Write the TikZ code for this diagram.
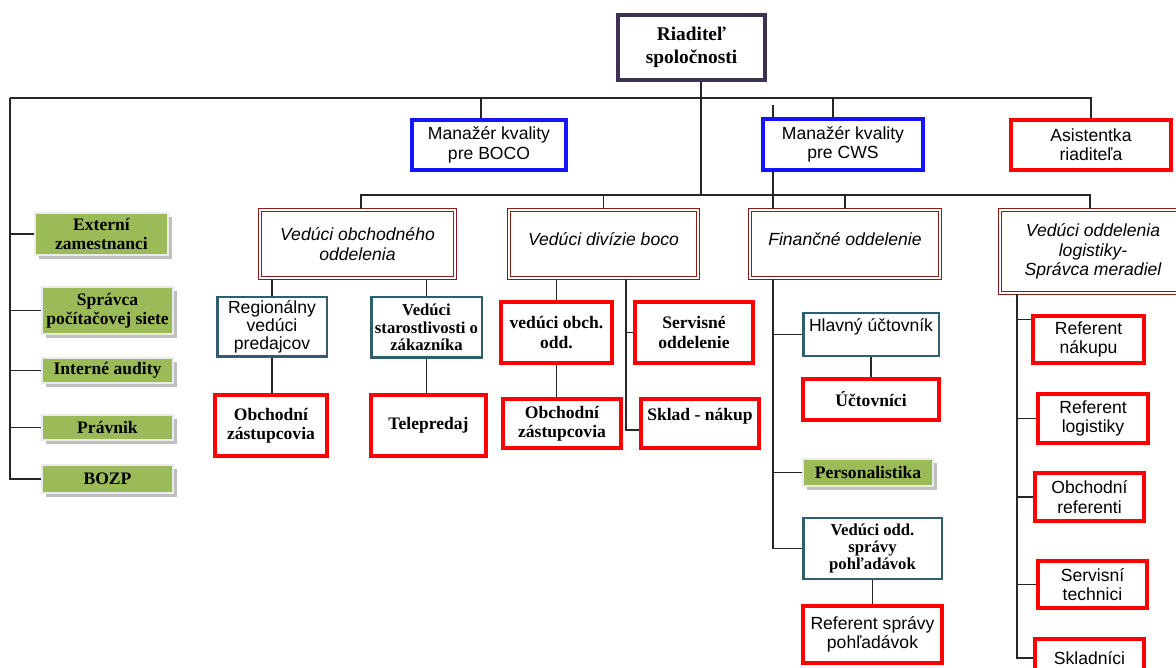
\documentclass[tikz,border=0pt]{standalone}
\usepackage{fontspec}
\setmainfont{Liberation Serif}
\setsansfont{Liberation Sans}
\usepackage{tikz}
\usetikzlibrary{shadows}

\definecolor{dirpurple}{HTML}{3F3151}
\definecolor{qblue}{HTML}{1414FF}
\definecolor{bred}{HTML}{FF0000}
\definecolor{dteal}{HTML}{2F5F6C}
\definecolor{dred}{HTML}{8E1B1B}
\definecolor{lgreen}{HTML}{9BBB59}

\tikzset{
  box/.style={draw, fill=white, align=center, inner sep=1pt},
  sanstxt/.style={font=\sffamily\fontsize{10}{11}\selectfont},
  seriftxt/.style={font=\bfseries\fontsize{10}{11}\selectfont},
  dirbox/.style={box, draw=dirpurple, line width=2.2pt, font=\bfseries\fontsize{11}{13}\selectfont},
  bluebox/.style={box, draw=qblue, line width=2pt, sanstxt},
  redbox/.style={box, draw=bred, line width=2pt},
  tealbox/.style={box, draw=dteal, line width=1.7pt},
  headbox/.style={box, draw=dred, double=white, line width=0.8pt, double distance=1.1pt,
    font=\sffamily\itshape\fontsize{10}{11}\selectfont},
  greenbox/.style={box, fill=lgreen, draw=black!8, line width=1.2pt,
    general shadow={fill=black!25, shadow xshift=2pt, shadow yshift=-2pt}, seriftxt},
  link/.style={line width=0.8pt, black!85},
}

\begin{document}
\begin{tikzpicture}[x=0.02cm, y=-0.02cm]
\useasboundingbox (0,0) rectangle (1176,668);

\node[dirbox, minimum width=2.94cm, minimum height=1.30cm] (dir) at (691.5,47.5) {Riaditeľ\\spoločnosti};
\node[bluebox, minimum width=3.08cm, minimum height=1cm] (boco) at (489,145) {Manažér kvality\\pre BOCO};
\node[bluebox, minimum width=3.2cm, minimum height=1.02cm] (cws) at (843,144.5) {Manažér kvality\\pre CWS};
\node[redbox, sanstxt, minimum width=3.2cm, minimum height=1cm] (asist) at (1091,145) {Asistentka\\riaditeľa};

\node[greenbox, minimum width=2.66cm, minimum height=0.84cm] (ext) at (101.5,234) {Externí\\zamestnanci};
\node[greenbox, minimum width=2.62cm, minimum height=0.94cm] (spr) at (107.5,310.5) {Správca\\počítačovej siete};
\node[greenbox, minimum width=2.62cm, minimum height=0.5cm] (aud) at (107.5,370.5) {Interné audity};
\node[greenbox, minimum width=2.62cm, minimum height=0.5cm] (prav) at (107.5,427.5) {Právnik};
\node[greenbox, minimum width=2.62cm, minimum height=0.56cm] (bozp) at (107.5,479) {BOZP};

\node[headbox, minimum width=3.9cm, minimum height=1.36cm] (obch) at (357.5,244) {Vedúci obchodného\\oddelenia};
\node[headbox, minimum width=3.78cm, minimum height=1.36cm, text depth=5.5pt] (div) at (603.5,244) {Vedúci divízie boco};
\node[headbox, minimum width=3.8cm, minimum height=1.36cm, text depth=5.5pt] (fin) at (845,244) {Finančné oddelenie};
\node[headbox, minimum width=3.72cm, minimum height=1.66cm] (log) at (1093,251.5) {Vedúci oddelenia\\logistiky-\\Správca meradiel};

\node[tealbox, font=\sffamily\fontsize{10}{10.4}\selectfont, minimum width=2.2cm, minimum height=1.2cm] (reg) at (272,327) {Regionálny\\vedúci\\predajcov};
\node[tealbox, font=\bfseries\fontsize{9.5}{10}\selectfont, minimum width=2.22cm, minimum height=1.22cm] (star) at (426.5,327.5) {Vedúci\\starostlivosti o\\zákazníka};
\node[redbox, seriftxt, minimum width=2.24cm, minimum height=1.22cm] (obz1) at (271,425.5) {Obchodní\\zástupcovia};
\node[redbox, seriftxt, minimum width=2.3cm, minimum height=1.22cm] (tele) at (428.5,425.5) {Telepredaj};

\node[redbox, seriftxt, minimum width=2.22cm, minimum height=1.22cm] (vobch) at (556.5,332.5) {vedúci obch.\\odd.};
\node[redbox, seriftxt, minimum width=2.36cm, minimum height=1.22cm] (serv) at (694,332.5) {Servisné\\oddelenie};
\node[redbox, seriftxt, minimum width=2.36cm, minimum height=0.98cm] (obz2) at (562,423.5) {Obchodní\\zástupcovia};
\node[redbox, seriftxt, minimum width=2.36cm, minimum height=0.98cm, text depth=10.5pt] (sklad) at (700,423.5) {Sklad - nákup};

\node[tealbox, sanstxt, minimum width=2.72cm, minimum height=0.86cm, text depth=10.5pt] (hlav) at (871,334.5) {Hlavný účtovník};
\node[redbox, seriftxt, minimum width=2.72cm, minimum height=0.82cm] (uct) at (871,399.5) {Účtovníci};
\node[greenbox, minimum width=2.6cm, minimum height=0.54cm] (pers) at (868,472.5) {Personalistika};
\node[tealbox, font=\bfseries\fontsize{9.5}{9.5}\selectfont, minimum width=2.78cm, minimum height=1.22cm] (vpoh) at (872.5,548.5) {Vedúci odd.\\správy\\pohľadávok};
\node[redbox, sanstxt, minimum width=2.78cm, minimum height=1.14cm] (rpoh) at (872.5,634.5) {Referent správy\\pohľadávok};

\node[redbox, sanstxt, minimum width=2.22cm, minimum height=0.94cm] (rnak) at (1088.5,339.5) {Referent\\nákupu};
\node[redbox, sanstxt, minimum width=2.2cm, minimum height=0.98cm] (rlog) at (1093,418.5) {Referent\\logistiky};
\node[redbox, sanstxt, minimum width=2.18cm, minimum height=0.96cm] (obref) at (1089.5,497) {Obchodní\\referenti};
\node[redbox, sanstxt, minimum width=2.18cm, minimum height=0.94cm] (servt) at (1092.5,584.5) {Servisní\\technici};
\node[redbox, sanstxt, minimum width=2.18cm, minimum height=0.76cm] (skladn) at (1089.5,658) {Skladníci};

\coordinate (topL) at (10,98);
\coordinate (topR) at (1091,98);
\coordinate (trunk) at (701,195);
\coordinate (bocoin) at ([xshift=-0.16cm]boco.north);
\coordinate (cwsin) at ([xshift=-0.2cm]cws.north);
\coordinate (cwsl) at (773,105);
\coordinate (barL) at (361,195);
\coordinate (barR) at (1090,195);
\coordinate (dstem) at (626,430);
\coordinate (fstem) at (773,548);
\coordinate (lstem) at (1017,293);
\coordinate (rnakin) at ([yshift=-0.1cm]rnak.north west);

\draw[link] (topL) -- (topR) -- (asist.north);
\draw[link] (dir.south -| trunk) -- (trunk);
\draw[link] (bocoin) -- (bocoin |- topL);
\draw[link] (cwsin) -- (cwsin |- topL);
\draw[link] (cwsl) -- (cwsl |- cws.north);
\draw[link] (cwsl |- cws.south) -- (cwsl |- fin.north);

\draw[link] (topL) |- (ext.west);
\draw[link] (topL) |- (spr.west);
\draw[link] (topL) |- (aud.west);
\draw[link] (topL) |- (prav.west);
\draw[link] (topL) |- (bozp.west);

\draw[link] (obch.north -| barL) -- (barL) -- (barR) -- (barR |- log.north);
\draw[link] (div.north) -- (div.north |- barL);
\draw[link] (fin.north) -- (fin.north |- barL);

\draw[link] (reg.north) -- (reg.north |- obch.south);
\draw[link] (star.north) -- (star.north |- obch.south);
\draw[link] (reg.south) -- (reg.south |- obz1.north);
\draw[link] (star.south) -- (star.south |- tele.north);

\draw[link] (vobch.north) -- (vobch.north |- div.south);
\draw[link] (vobch.south) -- (vobch.south |- obz2.north);
\draw[link] (div.south -| dstem) -- (dstem) -- (dstem -| sklad.west);
\draw[link] (serv.west) -- (serv.west -| dstem);

\draw[link] (fin.south -| fstem) |- (vpoh.west);
\draw[link] (hlav.west) -- (hlav.west -| fstem);
\draw[link] (pers.west) -- (pers.west -| fstem);
\draw[link] (hlav.south) -- (uct.north);
\draw[link] (vpoh.south) -- (rpoh.north);

\draw[link] (log.south -| lstem) |- (skladn.west);
\draw[link] (rnakin) -- (rnakin -| lstem);
\draw[link] (rlog.west) -- (rlog.west -| lstem);
\draw[link] (obref.west) -- (obref.west -| lstem);
\draw[link] (servt.west) -- (servt.west -| lstem);
\end{tikzpicture}
\end{document}
